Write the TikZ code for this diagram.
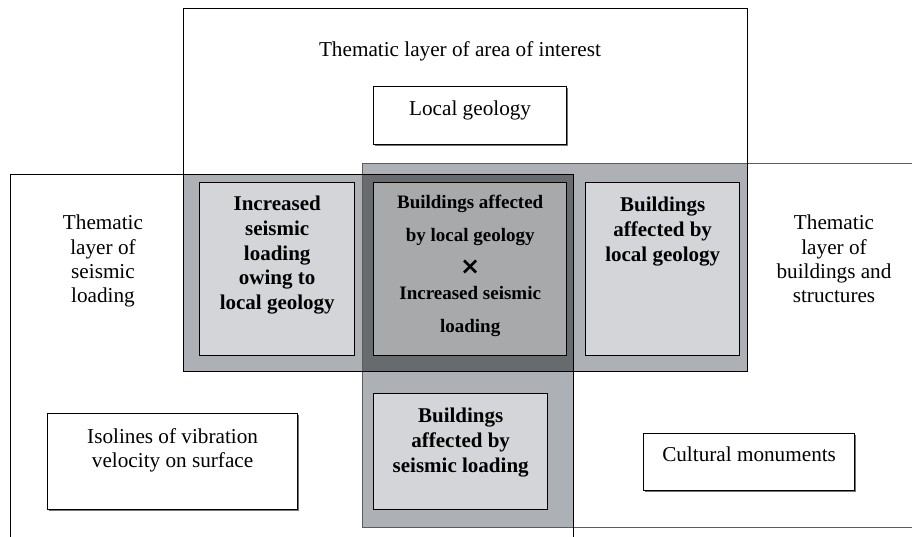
\documentclass[tikz,border=0pt]{standalone}
\usepackage{fontspec}
\setmainfont{Liberation Serif}
\newfontfamily\crossfont{DejaVu Sans}
\usetikzlibrary{positioning,shadows}
\definecolor{bandgray}{HTML}{ADB0B4}
\definecolor{darkband}{HTML}{686B6E}
\definecolor{lightbox}{HTML}{D4D5D8}
\definecolor{midbox}{HTML}{A8A9AB}
\definecolor{bline}{HTML}{5A5C5E}

\begin{document}
\begin{tikzpicture}[%
        x=1pt, y=-1pt,
        every node/.style={inner sep=0pt, align=center},
        layer/.style={line width=1pt},
        whitebox/.style={draw, line width=1.2pt, fill=white, anchor=north west,
          drop shadow={shadow xshift=1.2pt, shadow yshift=-1.2pt, fill=black!55, opacity=1}},
        graybox/.style={draw, line width=1.4pt, fill=lightbox, anchor=north west},
        plain/.style={font=\fontsize{21.2}{24.3}\selectfont},
        heavy/.style={font=\fontsize{21}{24.7}\selectfont\bfseries},
        node distance=14pt
      ]
      \useasboundingbox (0,0) rectangle (912,536);
      \clip (0,0) rectangle (912,536);

      % overlaps of the three layers
      \fill [bandgray] (183,174) rectangle (573,371);
      \fill [bandgray] (362,163) rectangle (747,371);
      \fill [bandgray] (362,174) rectangle (573,527);
      \fill [darkband] (362,174) rectangle (573,371);

      % the layers
      \draw [layer, draw=bline] (930,163) -- (362,163) -- (362,527) -- (930,527);
      \draw [layer] (183,8) rectangle (747,371);
      \draw [layer] (10,174) rectangle (573,560);

      \node [] (area) [plain, anchor=north] at (460,41) {Thematic layer of area of interest};
      \node [] (seis) [plain, anchor=north] at (103,215) {Thematic\\layer of\\seismic\\loading};
      \node [] (build) [plain, anchor=north] at (834,215) {Thematic\\layer of\\buildings and\\structures};

      \node [] (geo) [whitebox, minimum width=193pt, minimum height=58pt] at (373,86) {};
      \node [] (geotext) [plain, below=15pt of geo.north] {Local geology};

      \node [] (incr) [graybox, minimum width=155pt, minimum height=173pt] at (199,182) {};
      \node [] (incrtext) [heavy, below=14pt of incr.north] {Increased\\seismic\\loading\\owing to\\local geology};

      \node [] (cross) [graybox, fill=midbox, minimum width=193pt, minimum height=173pt] at (373,182) {};
      \node [] (crosstext) [font=\fontsize{19}{33}\selectfont\bfseries, below=13pt of cross.north]
        {Buildings affected\\by local geology\\{\crossfont\fontsize{24}{24}\selectfont\bfseries ×}\\[-8pt]Increased seismic\\loading};

      \node [] (bgeo) [graybox, minimum width=154pt, minimum height=173pt] at (585,182) {};
      \node [] (bgeotext) [heavy, below=15pt of bgeo.north] {Buildings\\affected by\\local geology};

      \node [] (bseis) [graybox, minimum width=174pt, minimum height=116pt] at (373,393) {};
      \node [] (bseistext) [heavy, below=15pt of bseis.north] {Buildings\\affected by\\seismic loading};

      \node [] (iso) [whitebox, minimum width=250pt, minimum height=96pt] at (47,413) {};
      \node [] (isotext) [plain, below=15pt of iso.north] {Isolines of vibration\\velocity on surface};

      \node [] (cult) [whitebox, minimum width=211pt, minimum height=57pt] at (643,433) {};
      \node [] (culttext) [plain, below=14pt of cult.north] {Cultural monuments};
    \end{tikzpicture}
\end{document}
